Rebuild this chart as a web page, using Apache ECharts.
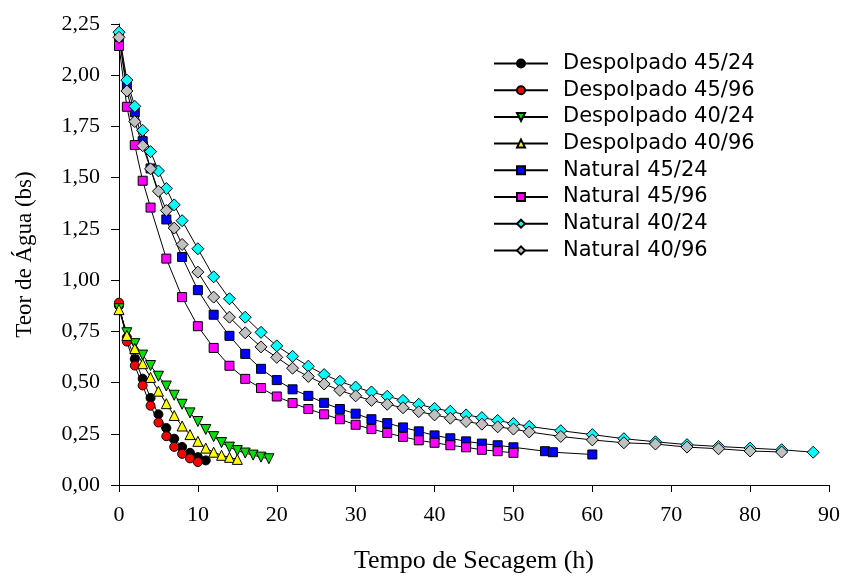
<!DOCTYPE html>
<html>
<head>
<meta charset="utf-8">
<script src="https://cdn.jsdelivr.net/npm/echarts@6/dist/echarts.min.js"></script>
<style>
  html, body { margin: 0; padding: 0; background: #fff; }
  #chart { width: 843px; height: 579px; }
</style>
</head>
<body>
<div id="chart"></div>
<script>
// Drying curves: moisture content (dry basis) versus drying time (h)

const seriesNames = [
  'Despolpado 45/24', 'Despolpado 45/96', 'Despolpado 40/24', 'Despolpado 40/96',
  'Natural 45/24', 'Natural 45/96', 'Natural 40/24', 'Natural 40/96'
];

// Despolpado (pulped) samples
const tDesp4524 = [0, 1, 2, 3, 4, 5, 6, 7, 8, 9, 10, 11];
const wDesp4524 = [0.875, 0.72, 0.615, 0.519, 0.425, 0.345, 0.278, 0.226, 0.186, 0.157, 0.136, 0.12];

const tDesp4596 = [0, 1, 2, 3, 4, 5, 6, 7, 8, 9, 10];
const wDesp4596 = [0.89, 0.70, 0.583, 0.486, 0.387, 0.305, 0.238, 0.186, 0.152, 0.130, 0.112];

const tDesp4024 = [0, 1, 2, 3, 4, 5, 6, 7, 8, 9, 10, 11, 12, 13, 14, 15, 16, 17, 18, 19];
const wDesp4024 = [0.86, 0.743, 0.69, 0.634, 0.583, 0.531, 0.483, 0.438, 0.394, 0.352,
                   0.31, 0.271, 0.236, 0.207, 0.185, 0.168, 0.156, 0.146, 0.136, 0.128];

const tDesp4096 = [0, 1, 2, 3, 4, 5, 6, 7, 8, 9, 10, 11, 12, 13, 14, 15];
const wDesp4096 = [0.856, 0.73, 0.666, 0.592, 0.525, 0.458, 0.397, 0.339, 0.288, 0.246,
                   0.213, 0.18, 0.16, 0.145, 0.135, 0.125];

// Natural (unpulped) samples
const tNat4524 = [0, 1, 2, 3, 4, 6, 8, 10, 12, 14, 16, 18, 20, 22, 24, 26, 28, 30, 32, 34,
                  36, 38, 40, 42, 44, 46, 48, 50, 54, 55, 60];
const wNat4524 = [2.19, 1.95, 1.819, 1.678, 1.545, 1.296, 1.113, 0.951, 0.831, 0.728,
                  0.640, 0.567, 0.512, 0.467, 0.435, 0.401, 0.371, 0.348, 0.321, 0.302,
                  0.281, 0.262, 0.242, 0.228, 0.213, 0.202, 0.194, 0.184, 0.165, 0.160, 0.149];

const tNat4596 = [0, 1, 2, 3, 4, 6, 8, 10, 12, 14, 16, 18, 20, 22, 24, 26, 28, 30, 32, 34,
                  36, 38, 40, 42, 44, 46, 48, 50];
const wNat4596 = [2.143, 1.846, 1.659, 1.485, 1.354, 1.105, 0.917, 0.775, 0.669, 0.582,
                  0.518, 0.473, 0.432, 0.40, 0.371, 0.345, 0.321, 0.294, 0.273, 0.254,
                  0.235, 0.218, 0.206, 0.194, 0.184, 0.172, 0.165, 0.157];

const tNat4024 = [0, 1, 2, 3, 4, 5, 6, 7, 8, 10, 12, 14, 16, 18, 20, 22, 24, 26, 28, 30,
                  32, 34, 36, 38, 40, 42, 44, 46, 48, 50, 52, 56, 60, 64, 68, 72, 76, 80, 84, 88];
const wNat4024 = [2.21, 1.976, 1.848, 1.731, 1.627, 1.533, 1.447, 1.367, 1.29, 1.153,
                  1.016, 0.909, 0.819, 0.745, 0.679, 0.628, 0.58, 0.539, 0.506, 0.478,
                  0.454, 0.433, 0.413, 0.394, 0.374, 0.36, 0.342, 0.329, 0.315, 0.30,
                  0.286, 0.265, 0.246, 0.226, 0.211, 0.197, 0.188, 0.18, 0.172, 0.16];

const tNat4096 = [0, 1, 2, 3, 4, 5, 6, 7, 8, 10, 12, 14, 16, 18, 20, 22, 24, 26, 28, 30,
                  32, 34, 36, 38, 40, 42, 44, 46, 48, 50, 52, 56, 60, 64, 68, 72, 76, 80, 84];
const wNat4096 = [2.185, 1.923, 1.774, 1.656, 1.543, 1.434, 1.34, 1.254, 1.174, 1.039,
                  0.917, 0.819, 0.743, 0.674, 0.623, 0.57, 0.53, 0.493, 0.462, 0.435,
                  0.413, 0.394, 0.377, 0.358, 0.342, 0.326, 0.31, 0.297, 0.284, 0.273,
                  0.259, 0.237, 0.22, 0.206, 0.200, 0.185, 0.177, 0.166, 0.161];

// Axis ticks
const xTicks = { min: 0, max: 90, step: 10 };
const yTicks = { min: 0, max: 2.25, step: 0.25 };

const times = [tDesp4524, tDesp4596, tDesp4024, tDesp4096, tNat4524, tNat4596, tNat4024, tNat4096];
const moist = [wDesp4524, wDesp4596, wDesp4024, wDesp4096, wNat4524, wNat4596, wNat4024, wNat4096];

// Marker look per series
const markerStyles = [
  { symbol: 'circle',   size: 9,  rotate: 0,   fill: '#000000' },
  { symbol: 'circle',   size: 9,  rotate: 0,   fill: '#ff0000' },
  { symbol: 'triangle', size: 10, rotate: 180, fill: '#00e000' },
  { symbol: 'triangle', size: 10, rotate: 0,   fill: '#ffff00' },
  { symbol: 'rect',     size: 9,  rotate: 0,   fill: '#0000ff' },
  { symbol: 'rect',     size: 9,  rotate: 0,   fill: '#ff00ff' },
  { symbol: 'diamond',  size: 12, rotate: 0,   fill: '#00ffff' },
  { symbol: 'diamond',  size: 12, rotate: 0,   fill: '#c0c0c0' }
];

const series = seriesNames.map((name, i) => ({
  name,
  type: 'line',
  data: times[i].map((t, k) => [t, moist[i][k]]),
  symbol: markerStyles[i].symbol,
  symbolSize: markerStyles[i].size,
  symbolRotate: markerStyles[i].rotate,
  showAllSymbol: true,
  animation: false,
  lineStyle: { color: '#000000', width: 1 },
  itemStyle: { color: markerStyles[i].fill, borderColor: '#000000', borderWidth: 1 },
  emphasis: { disabled: true }
}));

const serif = '"Liberation Serif", "Times New Roman", serif';
const sans = '"DejaVu Sans", Arial, sans-serif';

const chart = echarts.init(document.getElementById('chart'), null, { renderer: 'canvas' });
chart.setOption({
  backgroundColor: '#ffffff',
  animation: false,
  grid: { left: 119, right: 14, top: 24, bottom: 87, containLabel: false },
  legend: {
    orient: 'vertical',
    left: 493,
    top: 53,
    padding: 0,
    itemWidth: 54,
    itemHeight: 10,
    itemGap: 5.7,
    data: seriesNames,
    textStyle: { fontFamily: sans, fontSize: 21, color: '#000', lineHeight: 20, padding: [0, 0, 0, 10] }
  },
  xAxis: {
    type: 'value',
    min: xTicks.min,
    max: xTicks.max,
    interval: xTicks.step,
    name: 'Tempo de Secagem (h)',
    nameLocation: 'middle',
    nameGap: 63,
    nameTextStyle: { fontFamily: serif, fontSize: 26, color: '#000' },
    axisLine: { lineStyle: { color: '#000', width: 1 } },
    axisTick: { length: 7, lineStyle: { color: '#000' } },
    axisLabel: { fontFamily: serif, fontSize: 22, color: '#000', margin: 19 },
    splitLine: { show: false }
  },
  yAxis: {
    type: 'value',
    min: yTicks.min,
    max: yTicks.max,
    interval: yTicks.step,
    name: 'Teor de Água (bs)',
    nameLocation: 'middle',
    nameGap: 83,
    nameTextStyle: { fontFamily: serif, fontSize: 23, color: '#000' },
    axisLine: { show: true, lineStyle: { color: '#000', width: 1 } },
    axisTick: { show: true, length: 8, lineStyle: { color: '#000' } },
    axisLabel: {
      fontFamily: serif, fontSize: 22, color: '#000', margin: 19,
      formatter: v => v.toFixed(2).replace('.', ',')
    },
    splitLine: { show: false }
  },
  series
});
</script>
</body>
</html>
